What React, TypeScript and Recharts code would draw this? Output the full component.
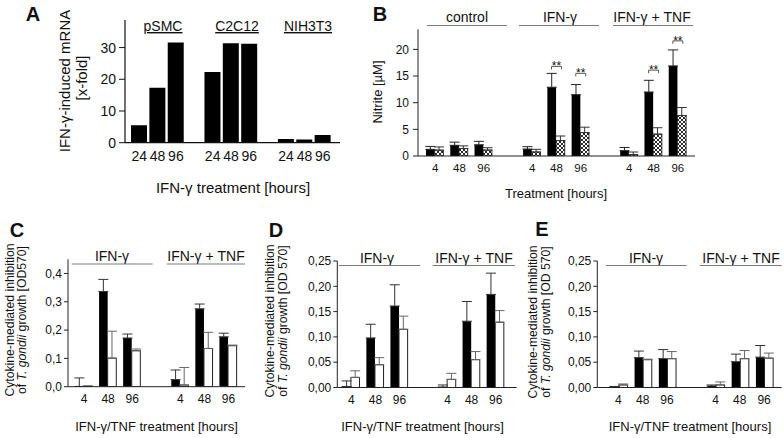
import React from 'react';
import { BarChart, Bar, XAxis, YAxis, ErrorBar, ReferenceDot } from 'recharts';

const FONT = '"Liberation Sans", Arial, Helvetica, sans-serif';

// A: IFN-γ-induced mRNA (x-fold), three cell lines, gap slots between them
const aTicks = ['24', '48', '96', '', '24', '48', '96', '', '24', '48', '96'];
const aValues = [5.5, 17.3, 31.6, null, 22.3, 31.4, 31.2, null, 1.2, 1.0, 2.4];
const aCellLines = ['pSMC', 'C2C12', 'NIH3T3'];

// B: nitrite (µM), black vs. hatched bars
const bTicks = ['4', '48', '96', '', '4', '48', '96', '', '4', '48', '96'];
const bBlack = [1.25, 2.0, 2.1, null, 1.3, 12.9, 11.5, null, 1.0, 12.0, 16.9];
const bBlackErr = [0.55, 0.6, 0.65, null, 0.45, 2.6, 1.9, null, 0.6, 2.2, 3.0];
const bHatched = [1.1, 1.4, 1.1, null, 0.75, 2.9, 4.4, null, 0.25, 4.1, 7.6];
const bHatchedErr = [0.6, 0.5, 0.45, null, 0.5, 0.85, 1.0, null, 0.5, 1.2, 1.5];
const bStars = [null, null, null, null, null, 16.8, 15.5, null, null, 16.1, 21.6];
const bGroups = ['control', 'IFN-γ', 'IFN-γ + TNF'];

// C-E: cytokine-mediated inhibition of T. gondii growth
const cdeTicks = ['4', '48', '96', '', '4', '48', '96'];
const cdeGroups = ['IFN-γ', 'IFN-γ + TNF'];

const cBlack = [0.001, 0.336, 0.172, null, 0.025, 0.275, 0.176];
const cBlackErr = [0.03, 0.043, 0.014, null, 0.034, 0.017, 0.013];
const cWhite = [0.002, 0.101, 0.127, null, 0.006, 0.135, 0.145];
const cWhiteErr = [0.0, 0.095, 0.006, null, 0.062, 0.057, 0.002];
const cYTicks = [0, 0.1, 0.2, 0.3, 0.4];

const dBlack = [0.002, 0.098, 0.161, null, 0.001, 0.131, 0.184];
const dBlackErr = [0.011, 0.027, 0.042, null, 0.004, 0.039, 0.042];
const dWhite = [0.02, 0.045, 0.115, null, 0.016, 0.055, 0.129];
const dWhiteErr = [0.013, 0.014, 0.026, null, 0.012, 0.016, 0.023];

const eBlack = [0.002, 0.059, 0.057, null, 0.003, 0.051, 0.06];
const eBlackErr = [0.0, 0.013, 0.018, null, 0.002, 0.015, 0.023];
const eWhite = [0.005, 0.055, 0.057, null, 0.005, 0.057, 0.058];
const eWhiteErr = [0.002, 0.001, 0.014, null, 0.006, 0.016, 0.01];
const deYTicks = [0, 0.05, 0.1, 0.15, 0.2, 0.25];

type Box = { left: number; top: number; width: number; height: number };
type Plot = { x0: number; x1: number; y0: number; y1: number };

// margins so the plot area lands where it is in the figure
const place = (box: Box, plot: Plot, yw: number, xh: number) => ({
  top: plot.y0 - box.top,
  left: plot.x0 - box.left - yw,
  right: box.left + box.width - plot.x1,
  bottom: box.top + box.height - plot.y1 - xh,
});

const upErr = (v: number | null, e: number | null) => (v == null || e == null ? undefined : [0, e]);

const tickStyle = (size: number) => ({ fontSize: size, fill: '#111', fontFamily: FONT });

function MrnaChart() {
  const box = { left: 90, top: 0, width: 260, height: 200 };
  const plot = { x0: 125, x1: 340, y0: 20, y1: 142.7 };
  const data = aTicks.map((label, i) => ({ slot: `a${i}`, label, value: aValues[i] }));
  const labelOf: Record<string, string> = Object.fromEntries(data.map((d) => [d.slot, d.label]));
  return (
    <div style={{ position: 'absolute', left: box.left, top: box.top }}>
      <BarChart width={box.width} height={box.height} data={data} margin={place(box, plot, 35, 25)} barSize={16}>
        <XAxis dataKey="slot" height={25} interval={0} tickLine={false} axisLine={{ stroke: '#111', strokeWidth: 1.2 }}
          padding={{ left: 5, right: 8 }} tickFormatter={(v) => labelOf[v]} tick={tickStyle(14)} />
        <YAxis type="number" width={35} domain={[0, 38.7]} ticks={[0, 10, 20, 30]} allowDataOverflow tickSize={6} tickMargin={3}
          axisLine={{ stroke: '#111', strokeWidth: 1.2 }} tickLine={{ stroke: '#111' }} tick={tickStyle(14)} />
        <Bar dataKey="value" fill="#000" isAnimationActive={false} />
      </BarChart>
    </div>
  );
}

const Bracket = (props: any) => {
  const { cx, cy } = props;
  return (
    <g>
      <path d={`M${cx - 5},${cy + 3}V${cy}H${cx + 5}V${cy + 3}`} fill="none" stroke="#333" strokeWidth={0.8} />
      <text x={cx} y={cy + 4} textAnchor="middle" fontSize={12} fontFamily={FONT} fill="#111">**</text>
    </g>
  );
};

function NitriteChart() {
  const box = { left: 350, top: 0, width: 434, height: 200 };
  const plot = { x0: 418, x1: 695, y0: 29.3, y1: 156 };
  const data = bTicks.map((label, i) => ({
    slot: `b${i}`,
    label,
    black: bBlack[i],
    hatched: bHatched[i],
    blackErr: upErr(bBlack[i], bBlackErr[i]),
    hatchedErr: upErr(bHatched[i], bHatchedErr[i]),
  }));
  const labelOf: Record<string, string> = Object.fromEntries(data.map((d) => [d.slot, d.label]));
  return (
    <div style={{ position: 'absolute', left: box.left, top: box.top }}>
      <BarChart width={box.width} height={box.height} data={data} margin={place(box, plot, 30, 20)} barSize={8.7} barGap={0}>
        <defs>
          <pattern id="cross" width="4" height="4" patternUnits="userSpaceOnUse">
            <rect width="4" height="4" fill="#fff" />
            <path d="M0,0L4,4M4,0L0,4" stroke="#111" strokeWidth={0.9} />
          </pattern>
        </defs>
        <XAxis dataKey="slot" height={20} interval={0} tickLine={false} axisLine={{ stroke: '#222' }}
          padding={{ left: 5, right: 5 }} tickFormatter={(v) => labelOf[v]} tick={tickStyle(11.5)} />
        <YAxis type="number" width={30} domain={[0, 23.77]} ticks={[0, 5, 10, 15, 20]} allowDataOverflow tickSize={5} tickMargin={4}
          axisLine={{ stroke: '#222' }} tickLine={{ stroke: '#222' }} tick={tickStyle(12)} />
        <Bar dataKey="black" fill="#000" isAnimationActive={false}>
          <ErrorBar dataKey="blackErr" width={5} stroke="#222" strokeWidth={1} />
        </Bar>
        <Bar dataKey="hatched" fill="url(#cross)" stroke="#111" strokeWidth={0.8} isAnimationActive={false}>
          <ErrorBar dataKey="hatchedErr" width={5} stroke="#333" strokeWidth={1} />
        </Bar>
        {data.map((d, i) =>
          bStars[i] == null ? null : (
            <ReferenceDot key={d.slot} x={d.slot} y={bStars[i] as number} r={0} ifOverflow="visible" shape={Bracket} />
          ),
        )}
      </BarChart>
    </div>
  );
}

type InhibitionProps = {
  box: Box;
  plot: Plot;
  pad: { left: number; right: number };
  black: (number | null)[];
  blackErr: (number | null)[];
  white: (number | null)[];
  whiteErr: (number | null)[];
  max: number;
  yTicks: number[];
  digits: number;
};

function InhibitionChart({ box, plot, pad, black, blackErr, white, whiteErr, max, yTicks, digits }: InhibitionProps) {
  const data = cdeTicks.map((label, i) => ({
    slot: `s${i}`,
    label,
    black: black[i],
    white: white[i],
    blackErr: upErr(black[i], blackErr[i]),
    whiteErr: upErr(white[i], whiteErr[i]),
  }));
  const labelOf: Record<string, string> = Object.fromEntries(data.map((d) => [d.slot, d.label]));
  return (
    <div style={{ position: 'absolute', left: box.left, top: box.top }}>
      <BarChart width={box.width} height={box.height} data={data} margin={place(box, plot, 40, 20)} barSize={8.6} barGap={0}>
        <XAxis dataKey="slot" height={20} interval={0} tickLine={false} axisLine={{ stroke: '#222' }}
          padding={pad} tickFormatter={(v) => labelOf[v]} tick={tickStyle(12)} />
        <YAxis type="number" width={40} domain={[0, max]} ticks={yTicks} allowDataOverflow tickSize={4} tickMargin={2}
          tickFormatter={(v: number) => v.toFixed(digits).replace('.', ',')}
          axisLine={{ stroke: '#222' }} tickLine={{ stroke: '#222' }} tick={tickStyle(12)} />
        <Bar dataKey="black" fill="#000" isAnimationActive={false}>
          <ErrorBar dataKey="blackErr" width={5} stroke="#333" strokeWidth={1} />
        </Bar>
        <Bar dataKey="white" fill="#fff" stroke="#222" strokeWidth={1} isAnimationActive={false}>
          <ErrorBar dataKey="whiteErr" width={5} stroke="#666" strokeWidth={1} />
        </Bar>
      </BarChart>
    </div>
  );
}

const VText = ({ x, y, size, children }: { x: number; y: number; size: number; children: React.ReactNode }) => (
  <text transform={`translate(${x},${y}) rotate(-90)`} textAnchor="middle" dominantBaseline="central" fontSize={size}>
    {children}
  </text>
);

function Annotations() {
  const grey = '#7a7a7a';
  return (
    <svg width={784} height={438} style={{ position: 'absolute', left: 0, top: 0, pointerEvents: 'none' }} fontFamily={FONT} fill="#111">
      {/* panel letters */}
      <text x={33} y={14} textAnchor="middle" dominantBaseline="central" fontSize={20} fontWeight="bold">A</text>
      <text x={380} y={14} textAnchor="middle" dominantBaseline="central" fontSize={20} fontWeight="bold">B</text>
      <text x={17} y={230} textAnchor="middle" dominantBaseline="central" fontSize={20} fontWeight="bold">C</text>
      <text x={276} y={230} textAnchor="middle" dominantBaseline="central" fontSize={20} fontWeight="bold">D</text>
      <text x={542} y={229} textAnchor="middle" dominantBaseline="central" fontSize={20} fontWeight="bold">E</text>

      {/* A */}
      <VText x={64} y={81} size={15}>IFN-γ-induced mRNA</VText>
      <VText x={81} y={78} size={15}>[x-fold]</VText>
      {aCellLines.map((name, i) => (
        <text key={name} x={[163, 237, 308][i]} y={31} textAnchor="middle" fontSize={14} style={{ textDecoration: 'underline' }}>
          {name}
        </text>
      ))}
      <text x={233} y={193} textAnchor="middle" fontSize={15}>IFN-γ treatment [hours]</text>

      {/* B */}
      <VText x={377} y={92} size={13}>Nitrite [µM]</VText>
      {bGroups.map((g, i) => (
        <g key={g}>
          <text x={[467, 560, 652][i]} y={22} textAnchor="middle" fontSize={14}>{g}</text>
          <line x1={[427, 519, 613][i]} x2={[507, 599, 693][i]} y1={25.5} y2={25.5} stroke={grey} strokeWidth={1} />
        </g>
      ))}
      <text x={556} y={198} textAnchor="middle" fontSize={13}>Treatment [hours]</text>

      {/* C, D, E */}
      {[
        { t1: 9.5, t2: 22, ty: 320, od: '[OD570]', gx: [112, 206], l1: [71.7, 152.7], l2: [166.7, 245], ly: 264, xt: 156.5 },
        { t1: 269.5, t2: 282.5, ty: 321, od: '[OD 570]', gx: [377, 474], l1: [339, 420], l2: [432.7, 515], ly: 265.5, xt: 422.5 },
        { t1: 533, t2: 545.5, ty: 322, od: '[OD 570]', gx: [646, 741], l1: [606, 686.7], l2: [700, 781.7], ly: 265.5, xt: 690 },
      ].map((p, k) => (
        <g key={k}>
          <VText x={p.t1} y={p.ty} size={12.2}>Cytokine-mediated inhibition</VText>
          <VText x={p.t2} y={p.ty} size={12.2}>
            of <tspan fontStyle="italic">T. gondii</tspan> growth {p.od}
          </VText>
          {cdeGroups.map((g, i) => (
            <g key={g}>
              <text x={p.gx[i]} y={p.ly - 3} textAnchor="middle" fontSize={14}>{g}</text>
              <line x1={i === 0 ? p.l1[0] : p.l2[0]} x2={i === 0 ? p.l1[1] : p.l2[1]} y1={p.ly} y2={p.ly} stroke={grey} strokeWidth={1} />
            </g>
          ))}
          <text x={p.xt} y={431} textAnchor="middle" fontSize={13}>IFN-γ/TNF treatment [hours]</text>
        </g>
      ))}
    </svg>
  );
}

export default function App() {
  return (
    <div style={{ position: 'absolute', left: 0, top: 0, width: 784, height: 438, background: '#fff', fontFamily: FONT }}>
      <MrnaChart />
      <NitriteChart />
      <InhibitionChart
        box={{ left: 0, top: 240, width: 260, height: 198 }}
        plot={{ x0: 68, x1: 245, y0: 259.3, y1: 386.7 }}
        pad={{ left: 4, right: 4.5 }}
        black={cBlack} blackErr={cBlackErr} white={cWhite} whiteErr={cWhiteErr}
        max={0.45} yTicks={cYTicks} digits={1}
      />
      <InhibitionChart
        box={{ left: 260, top: 240, width: 262, height: 198 }}
        plot={{ x0: 337.3, x1: 516.7, y0: 261, y1: 387.5 }}
        pad={{ left: 2, right: 9 }}
        black={dBlack} blackErr={dBlackErr} white={dWhite} whiteErr={dWhiteErr}
        max={0.25} yTicks={deYTicks} digits={2}
      />
      <InhibitionChart
        box={{ left: 522, top: 240, width: 262, height: 198 }}
        plot={{ x0: 597.3, x1: 781.7, y0: 261, y1: 387.5 }}
        pad={{ left: 9, right: 5.5 }}
        black={eBlack} blackErr={eBlackErr} white={eWhite} whiteErr={eWhiteErr}
        max={0.25} yTicks={deYTicks} digits={2}
      />
      <Annotations />
    </div>
  );
}
